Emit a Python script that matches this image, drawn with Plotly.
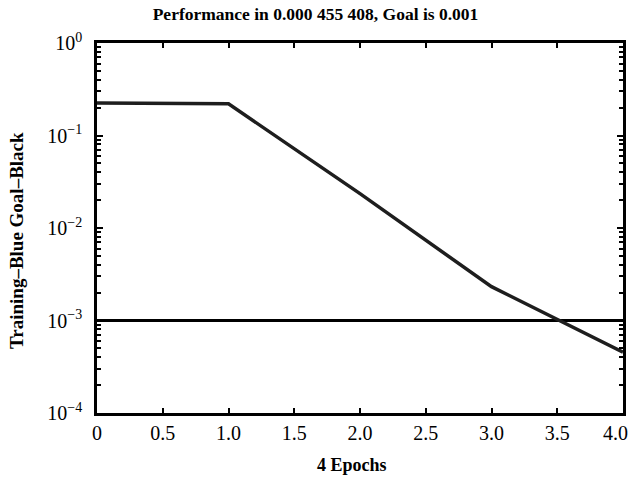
import plotly.graph_objects as go

epochs = [0, 0.5, 1, 2, 3, 4]
training = [0.225, 0.222, 0.220, 0.0235, 0.00232, 0.000455408]
goal = 0.001
goal_x = [0, 4]
y_tickvals = [1e-4, 1e-3, 1e-2, 1e-1, 1]
y_ticktext = ["10<sup>−4</sup>", "10<sup>−3</sup>", "10<sup>−2</sup>", "10<sup>−1</sup>", "10<sup>0</sup>"]
x_tickvals = [0, 0.5, 1, 1.5, 2, 2.5, 3, 3.5, 4]
x_ticktext = ["0", "0.5", "1.0", "1.5", "2.0", "2.5", "3.0", "3.5", "4.0\u00a0\u00a0\u00a0"]

minor_vals = [m * 10.0**e for e in range(-4, 0) for m in range(2, 10)]

font = "Liberation Serif"
fig = go.Figure()
fig.add_trace(go.Scatter(x=goal_x, y=[goal, goal], mode="lines",
                         line=dict(color="black", width=3), showlegend=False))
fig.add_trace(go.Scatter(x=epochs, y=training, mode="lines",
                         line=dict(color="#1e1e1e", width=3.5), showlegend=False))

fig.update_layout(
    width=631, height=480,
    margin=dict(l=97, r=8, t=43, b=67, autoexpand=False),
    plot_bgcolor="white", paper_bgcolor="white",
    font=dict(family=font, color="black", size=18),
    title=dict(text="<b>Performance in 0.000 455 408, Goal is 0.001</b>",
               x=0.5, xanchor="center", y=0.971, yanchor="middle",
               font=dict(family=font, size=17.5, color="black")),
    annotations=[
        dict(text="<b>4 Epochs</b>", xref="paper", yref="paper", x=0.485, y=-0.1405,
             xanchor="center", yanchor="middle", showarrow=False,
             font=dict(family=font, size=18, color="black")),
        dict(text="<b>Training–Blue Goal–Black</b>", xref="paper", yref="paper", x=-0.152, y=0.465,
             xanchor="center", yanchor="middle", showarrow=False, textangle=-90,
             font=dict(family=font, size=19, color="black")),
    ],
)
fig.update_xaxes(
    range=[0, 4], tickvals=x_tickvals, ticktext=x_ticktext,
    ticks="inside", ticklen=5, tickwidth=2, tickcolor="black",
    showline=True, linewidth=2.5, linecolor="black", mirror="ticks",
    showgrid=False, zeroline=False, automargin=False,
    ticklabeloverflow="allow",
    tickfont=dict(family=font, size=20),
    ticklabelstandoff=0,
)
fig.update_yaxes(
    type="log", range=[-4, 0], tickvals=y_tickvals, ticktext=y_ticktext,
    ticks="inside", ticklen=6, tickwidth=2, tickcolor="black",
    showline=True, linewidth=2.5, linecolor="black", mirror="ticks",
    showgrid=False, zeroline=False, automargin=False,
    minor=dict(tickvals=minor_vals, ticks="inside", ticklen=4, tickwidth=1.5, tickcolor="black", showgrid=False),
    tickfont=dict(family=font, size=20),
    ticklabelstandoff=8,
)

fig.write_html("out.html", config={"displayModeBar": False},
               post_script="document.body.style.margin='0px';document.body.style.overflow='hidden';")
